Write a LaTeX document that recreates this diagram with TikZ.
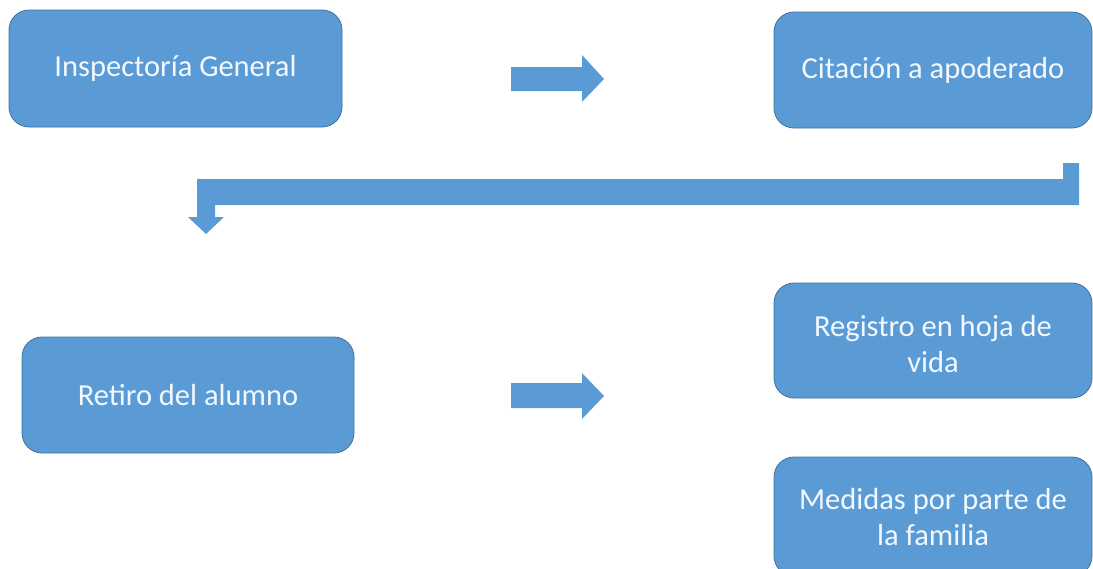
\documentclass[tikz,border=0pt]{standalone}
\usepackage{fontspec}
\setmainfont{Carlito}
\definecolor{boxfill}{HTML}{5B9BD5}
\definecolor{boxline}{HTML}{41719C}
\definecolor{txt}{HTML}{F2F8FF}
\begin{document}
\begin{tikzpicture}[x=1pt,y=-1pt,
  box/.style={draw=boxline,line width=0.8pt,fill=boxfill,rounded corners=20pt,inner sep=0pt},
  blockarrow/.style={fill=boxfill,draw=none},
  lbl/.style={text=txt,align=center,font=\fontsize{30.5}{36}\selectfont}]
\useasboundingbox (0,0) rectangle (1093,568);
\clip (0,0) rectangle (1093,568);
% boxes
\draw[box] (9,10) rectangle (342,127);
\node[lbl] (insp) at (175.5,68.5) {Inspectoría General};
\draw[box] (774,12) rectangle (1092,128);
\node[lbl] (cit) at (933,70) {Citación a apoderado};
\draw[box] (22,337) rectangle (354,453);
\node[lbl] (ret) at (188,395) {Retiro del alumno};
\draw[box] (774,283) rectangle (1092,398);
\node[lbl] (reg) at (933,344) {Registro en hoja de\\vida};
\draw[box] (774,457) rectangle (1092,576);
\node[lbl] (med) at (933,517) {Medidas por parte de\\la familia};
% right arrows
\fill[blockarrow] (511,67) -- (582,67) -- (582,55) -- (604,79) -- (582,102) -- (582,91) -- (511,91) -- cycle;
\fill[blockarrow] (511,383) -- (582,383) -- (582,373) -- (604,396) -- (582,419) -- (582,408) -- (511,408) -- cycle;
% bent arrow
\fill[blockarrow] (1079,163) -- (1079,205) -- (215,205) -- (215,217) -- (224,217) -- (206,234) -- (188,217) -- (197,217) -- (197,179) -- (1063,179) -- (1063,163) -- cycle;
\end{tikzpicture}
\end{document}
